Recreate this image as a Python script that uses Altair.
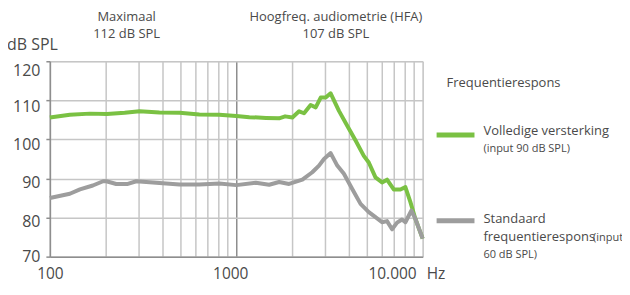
import altair as alt
import pandas as pd

# Frequency response data (Hz, dB SPL)
freq_green = [100, 128, 164, 202, 252, 303, 387, 496, 634, 811, 1000, 1175, 1446, 1698, 1829, 2000,
              2173, 2310, 2506, 2668, 2838, 3019, 3209, 3556, 3939, 4366, 4833, 5141, 5584, 6056,
              6440, 6995, 7599, 8079, 8590, 9138, 10000]
db_green = [105.6, 106.3, 106.6, 106.5, 106.8, 107.2, 106.9, 106.8, 106.4, 106.3, 106.0, 105.7, 105.5,
            105.4, 105.9, 105.6, 107.2, 106.7, 108.8, 108.2, 110.7, 110.7, 111.8, 107.3, 103.5, 99.7,
            95.8, 94.1, 90.3, 89.0, 89.7, 87.2, 87.2, 87.8, 84.0, 79.7, 74.6]

freq_gray = [100, 128, 145, 170, 193, 201, 227, 262, 291, 357, 496, 634, 811, 1000, 1274, 1501, 1698,
             1920, 2263, 2558, 2779, 2956, 3209, 3482, 3781, 4190, 4644, 5141, 5584, 6056, 6440, 6855,
             7290, 7748, 8079, 8705, 9138, 10000]
db_gray = [85.0, 86.1, 87.2, 88.2, 89.3, 89.3, 88.6, 88.6, 89.3, 89.0, 88.45, 88.45, 88.7, 88.3, 88.9,
           88.4, 89.1, 88.6, 89.7, 91.6, 93.3, 95.0, 96.5, 93.3, 91.2, 87.3, 83.5, 81.4, 80.1, 78.8,
           79.1, 77.0, 78.7, 79.5, 78.8, 81.8, 79.7, 74.6]

x_grid_values = [100, 200, 300, 400, 500, 600, 700, 800, 900, 1000, 2000, 3000, 4000, 5000, 6000,
                 7000, 8000, 9000, 10000]
y_values = [70, 80, 90, 100, 110, 120]

GREEN = "#7ac143"
GRAY = "#9d9d9d"
TEXT = "#4a4a4a"
FONT = "Open Sans"

W, H = 374, 196

df = pd.concat([
    pd.DataFrame({"freq": freq_green, "db": db_green, "series": "green"}),
    pd.DataFrame({"freq": freq_gray, "db": db_gray, "series": "gray"}),
])

x_enc = alt.X("freq:Q", scale=alt.Scale(type="log", domain=[100, 10000]),
              axis=alt.Axis(values=x_grid_values,
                            labelExpr="datum.value == 100 ? '100' : datum.value == 1000 ? '1000' : ''",
                            grid=True,
                            gridColor={"condition": {"test": "datum.value == 1000", "value": "#8e8e8e"},
                                       "value": "#c6c6c6"},
                            gridWidth=1.5, domainColor="#8e8e8e", domainWidth=1.5,
                            ticks=False, labelPadding=22, labelBaseline="alphabetic",
                            labelFontSize=15.5, labelColor=TEXT,
                            labelFont=FONT, labelFlush=False,
                            labelOffset={"condition": {"test": "datum.value == 1000", "value": -6},
                                         "value": 0},
                            title=None))
y_enc = alt.Y("db:Q", scale=alt.Scale(domain=[70, 120]),
              axis=alt.Axis(values=y_values, grid=True, gridColor="#c6c6c6", gridWidth=1.5,
                            domainColor="#8e8e8e", domainWidth=1.5, tickColor="#8e8e8e",
                            tickSize=4, tickWidth=1.5, labelPadding=6, labelFontSize=16,
                            labelColor=TEXT, labelFont=FONT,
                            labelOffset={"condition": [
                                {"test": "datum.value == 120", "value": 9},
                                {"test": "datum.value == 110", "value": 6},
                                {"test": "datum.value == 100", "value": 5},
                                {"test": "datum.value == 70", "value": 0}],
                                "value": 4},
                            title=None))

lines = alt.Chart(df).mark_line(strokeWidth=4, strokeJoin="round").encode(
    x=x_enc, y=y_enc,
    color=alt.Color("series:N", scale=alt.Scale(domain=["green", "gray"], range=[GREEN, GRAY]),
                    legend=None),
    order=alt.Order("freq:Q"),
)

# Label for 10.000 Hz
lab10k = alt.Chart(pd.DataFrame({"freq": [10000]})).mark_text(
    text="10.000", align="right", baseline="alphabetic", dx=-6, fontSize=15.5, font=FONT, color=TEXT
).encode(x=alt.X("freq:Q"), y=alt.value(H + 22))
labHz = alt.Chart(pd.DataFrame({"freq": [10000]})).mark_text(
    text="Hz", align="left", baseline="alphabetic", dx=4, fontSize=15.5, font=FONT, color=TEXT
).encode(x=alt.X("freq:Q"), y=alt.value(H + 22))

# Annotation texts: (text, x, y, size, align)
annotations = [
    ("dB SPL", -43, -11, 16, "left"),
    ("Maximaal", 77, -40, 13, "center"),
    ("112 dB SPL", 77, -23, 13, "center"),
    ("Hoogfreq. audiometrie (HFA)", 287, -40, 13, "center"),
    ("107 dB SPL", 287, -23, 13, "center"),
    ("Frequentierespons", 398, 26, 13, "left"),
    ("Volledige versterking", 435, 74, 13, "left"),
    ("(input 90 dB SPL)", 435, 91, 11, "left"),
    ("Standaard", 435, 162, 13, "left"),
    ("frequentierespons", 435, 180, 13, "left"),
    ("(input", 545, 180, 11, "left"),
    ("60 dB SPL)", 435, 197, 11, "left"),
]
text_layers = []
for t, x, y, s, a in annotations:
    text_layers.append(
        alt.Chart(pd.DataFrame({"t": [t]})).mark_text(
            align=a, baseline="alphabetic", fontSize=s, font=FONT, color=TEXT
        ).encode(text="t:N", x=alt.value(x), y=alt.value(y))
    )

leg_green = alt.Chart(pd.DataFrame({"a": [0]})).mark_rule(color=GREEN, strokeWidth=5).encode(
    x=alt.value(388), x2=alt.value(426), y=alt.value(74))
leg_gray = alt.Chart(pd.DataFrame({"a": [0]})).mark_rule(color=GRAY, strokeWidth=5).encode(
    x=alt.value(388), x2=alt.value(426), y=alt.value(160))

chart = alt.layer(lines, lab10k, labHz, leg_green, leg_gray, *text_layers).properties(
    width=W, height=H,
    autosize=alt.AutoSizeParams(type="none"),
    padding={"left": 42, "top": 53, "right": 200, "bottom": 26},
).configure_view(stroke=None).configure(background="white")

chart.save("out.html", embed_options={"renderer": "svg", "actions": False})
